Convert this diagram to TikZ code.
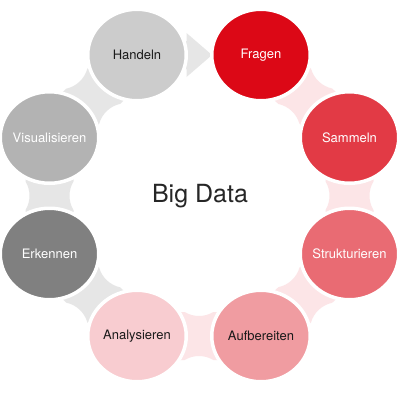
\documentclass[tikz,border=0pt]{standalone}
\usepackage{fontspec}
\setmainfont{TeX Gyre Heros}
\usetikzlibrary{calc}
\definecolor{cFragen}{RGB}{220,8,22}
\definecolor{cSammeln}{RGB}{226,58,69}
\definecolor{cStrukt}{RGB}{233,107,115}
\definecolor{cAufb}{RGB}{240,156,161}
\definecolor{cAnaly}{RGB}{248,204,208}
\definecolor{cErk}{RGB}{128,128,128}
\definecolor{cVis}{RGB}{179,179,179}
\definecolor{cHand}{RGB}{204,204,204}
\definecolor{connPink}{RGB}{252,229,231}
\definecolor{connGray}{RGB}{230,230,230}
\definecolor{txtDark}{RGB}{26,26,26}
\newcommand\myconn[3]{%
  \pgfmathanglebetweenpoints{\pgfpointanchor{#1}{center}}{\pgfpointanchor{#2}{center}}%
  \let\connang\pgfmathresult
  \begin{scope}[shift={($(#1)!0.5!(#2)$)}, rotate=\connang]
    \fill[#3] (-50pt,24pt) -- (-14.4pt,24pt)
      arc[start angle=239.04, end angle=300.96, radius=28pt]
      -- (50pt,24pt) -- (50pt,-24pt) -- (14.4pt,-24pt)
      arc[start angle=59.04, end angle=120.96, radius=28pt]
      -- (-50pt,-24pt) -- cycle;
  \end{scope}}
\newcommand\myarrow[3]{%
  \pgfmathanglebetweenpoints{\pgfpointanchor{#1}{center}}{\pgfpointanchor{#2}{center}}%
  \let\connang\pgfmathresult
  \begin{scope}[shift={($(#1)!0.5!(#2)$)}, rotate=\connang]
    \fill[#3] (-40pt,14pt) -- (-12.5pt,14pt) -- (-12.5pt,22pt) -- (13pt,0pt)
      -- (-12.5pt,-22pt) -- (-12.5pt,-14pt) -- (-40pt,-14pt) -- cycle;
  \end{scope}}
\tikzset{
  disc/.style={draw=white, line width=3.5pt},
  lbl/.style={inner sep=0pt, font=\fontsize{13}{15}\selectfont},
}
\begin{document}
\begin{tikzpicture}[x=1pt,y=-1pt]
\fill[white] (0,0) rectangle (400,400);
\useasboundingbox (0,0) rectangle (400,400);
\coordinate (pF) at (261,55);
\coordinate (pS) at (349.5,137.5);
\coordinate (pSt) at (349.5,254);
\coordinate (pA) at (261,336);
\coordinate (pAn) at (137,336);
\coordinate (pE) at (49.5,254);
\coordinate (pV) at (49.5,137.5);
\coordinate (pH) at (137,55);
% connectors
\myconn{pF}{pS}{connPink}
\myconn{pS}{pSt}{connPink}
\myconn{pSt}{pA}{connPink}
\myconn{pA}{pAn}{connPink}
\myconn{pAn}{pE}{connGray}
\myconn{pE}{pV}{connGray}
\myconn{pV}{pH}{connGray}
\myarrow{pH}{pF}{connGray}
% discs
\filldraw[disc, fill=cFragen] (pF) ellipse [x radius=49.25pt, y radius=45.75pt];
\filldraw[disc, fill=cSammeln] (pS) ellipse [x radius=49.25pt, y radius=45.75pt];
\filldraw[disc, fill=cStrukt] (pSt) ellipse [x radius=49.25pt, y radius=45.75pt];
\filldraw[disc, fill=cAufb] (pA) ellipse [x radius=49.25pt, y radius=45.75pt];
\filldraw[disc, fill=cAnaly] (pAn) ellipse [x radius=49.25pt, y radius=45.75pt];
\filldraw[disc, fill=cErk] (pE) ellipse [x radius=49.25pt, y radius=45.75pt];
\filldraw[disc, fill=cVis] (pV) ellipse [x radius=49.25pt, y radius=45.75pt];
\filldraw[disc, fill=cHand] (pH) ellipse [x radius=49.25pt, y radius=45.75pt];
% labels
\node[lbl, text=white] (Fragen) at (pF) {Fragen};
\node[lbl, text=white] (Sammeln) at (pS) {Sammeln};
\node[lbl, text=white] (Strukturieren) at (pSt) {Strukturieren};
\node[lbl, text=txtDark] (Aufbereiten) at (pA) {Aufbereiten};
\node[lbl, text=txtDark] (Analysieren) at (pAn) {Analysieren};
\node[lbl, text=white] (Erkennen) at (pE) {Erkennen};
\node[lbl, text=white] (Visualisieren) at (pV) {Visualisieren};
\node[lbl, text=txtDark] (Handeln) at (pH) {Handeln};
\node[inner sep=0pt, text=black!85, font=\fontsize{25}{30}\selectfont] (BigData) at (200,196) {Big Data};
\end{tikzpicture}
\end{document}
